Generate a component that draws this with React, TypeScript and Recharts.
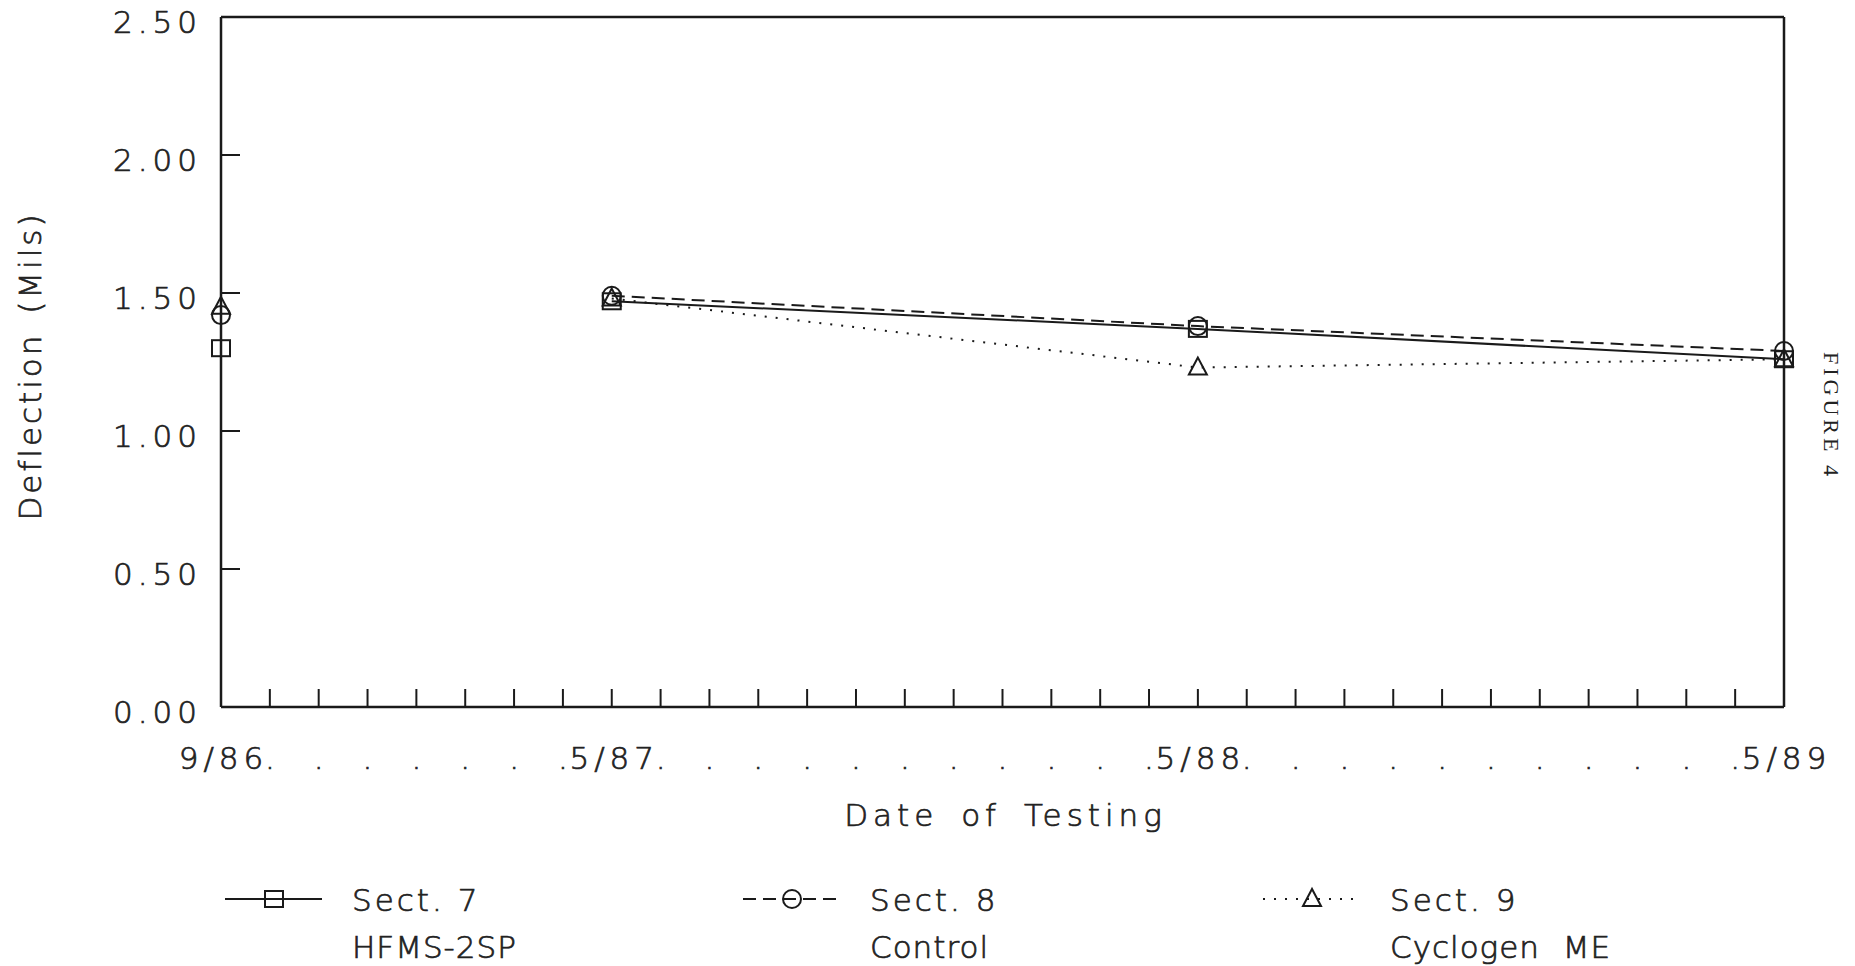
import React from 'react';
import { ComposedChart, Line, XAxis, YAxis, ReferenceLine, Legend } from 'recharts';

// months counted from 9/86, one tick per month
const monthTicks = Array.from({ length: 33 }, (_, i) => i);
const testMonths = [0, 8, 20, 32];
const testDates = ['9/86', '5/87', '5/88', '5/89'];
const yTicks = [0, 0.5, 1.0, 1.5, 2.0, 2.5];

const sect7 = [1.3, 1.47, 1.37, 1.26];
const sect8 = [1.42, 1.49, 1.38, 1.29];
const sect9 = [1.45, 1.48, 1.23, 1.26];

const series = [
  { key: 's7', name: 'Sect. 7', sub: 'HFMS-2SP', values: sect7, dash: undefined, marker: 'square' },
  { key: 's8', name: 'Sect. 8', sub: 'Control', values: sect8, dash: '13 7', marker: 'circle' },
  { key: 's9', name: 'Sect. 9', sub: 'Cyclogen ME', values: sect9, dash: '2 9', marker: 'triangle' },
];

const rows = testMonths.map((m, i) => {
  const row: any = { month: m };
  series.forEach((s) => (row[s.key] = s.values[i]));
  return row;
});
// first reading (9/86) is not joined to the later ones
const firstRows = rows.slice(0, 1);
const laterRows = rows.slice(1);

const INK = '#1a1a1a';
const TEXT = '#222';
// thin plotter-style lettering
const txt = {
  fontFamily: '"DejaVu Sans", sans-serif',
  fontSize: 31,
  fontWeight: 300,
  fill: TEXT,
  stroke: TEXT,
  strokeWidth: 0.7,
};

const Marker = ({ cx, cy, kind }: any) => {
  if (cx == null || cy == null) return null;
  if (kind === 'square')
    return <rect x={cx - 9} y={cy - 8} width={18} height={16} fill="none" stroke={INK} strokeWidth={2} />;
  if (kind === 'circle') return <circle cx={cx} cy={cy} r={9} fill="none" stroke={INK} strokeWidth={2} />;
  return (
    <polygon
      points={`${cx},${cy - 10} ${cx - 9},${cy + 7} ${cx + 9},${cy + 7}`}
      fill="none"
      stroke={INK}
      strokeWidth={2}
    />
  );
};

const XTick = ({ x, y, payload }: any) => {
  const v = payload.value;
  const idx = testMonths.indexOf(v);
  const label = idx >= 0 ? testDates[idx] : '.';
  return (
    <g>
      {v > 0 && v < 32 && <line x1={x} x2={x} y1={y} y2={y - 18} stroke={INK} strokeWidth={2} />}
      <text x={x + 2.5} y={y + 62} textAnchor="middle" letterSpacing={5} {...txt}>
        {label}
      </text>
    </g>
  );
};

const YTick = ({ x, y, payload }: any) => {
  const v = payload.value;
  return (
    <g>
      {v > 0 && v < 2.5 && <line x1={x} x2={x + 19} y1={y} y2={y} stroke={INK} strokeWidth={2} />}
      <text x={x - 19} y={y + 16} textAnchor="end" letterSpacing={5} {...txt}>
        {v.toFixed(2)}
      </text>
    </g>
  );
};

const LegendContent = () => {
  const starts = [225, 743, 1263];
  return (
    <svg width={1855} height={106}>
      {series.map((s, i) => {
        const x0 = starts[i];
        const cy = 39;
        return (
          <g key={s.key}>
            <line x1={x0} x2={x0 + 97} y1={cy} y2={cy} stroke={INK} strokeWidth={2} strokeDasharray={s.dash} />
            <Marker cx={x0 + 49} cy={cy} kind={s.marker} />
            <text x={x0 + 127} y={cy + 12} letterSpacing={3} {...txt}>
              {s.name}
            </text>
            <text x={x0 + 127} y={cy + 59} letterSpacing={1} wordSpacing={12} {...txt}>
              {s.sub}
            </text>
          </g>
        );
      })}
    </svg>
  );
};

export default function App() {
  return (
    <div style={{ position: 'relative', width: 1855, height: 966, background: '#fff' }}>
      <style>{'body{margin:0}'}</style>
      <ComposedChart width={1855} height={966} margin={{ top: 17, right: 71, bottom: 0, left: 0 }}>
        <XAxis
          dataKey="month"
          type="number"
          domain={[0, 32]}
          ticks={monthTicks}
          interval={0}
          tickLine={false}
          tickSize={0}
          tickMargin={0}
          height={259}
          axisLine={{ stroke: INK, strokeWidth: 2.5 }}
          tick={<XTick />}
          label={{
            content: ({ viewBox }: any) => (
              <text
                x={viewBox.x + viewBox.width / 2 + 3}
                y={826}
                textAnchor="middle"
                letterSpacing={5}
                wordSpacing={8}
                {...txt}
              >
                Date of Testing
              </text>
            ),
          }}
        />
        <YAxis
          type="number"
          domain={[0, 2.5]}
          ticks={yTicks}
          interval={0}
          width={221}
          tickLine={false}
          tickSize={0}
          tickMargin={0}
          axisLine={{ stroke: INK, strokeWidth: 2.5 }}
          tick={<YTick />}
          label={{
            content: () => (
              <text
                x={41}
                y={366}
                transform="rotate(-90 41 366)"
                textAnchor="middle"
                letterSpacing={3}
                wordSpacing={6}
                {...txt}
              >
                Deflection (Mils)
              </text>
            ),
          }}
        />
        <ReferenceLine y={2.5} stroke={INK} strokeWidth={2.5} />
        <ReferenceLine x={32} stroke={INK} strokeWidth={2.5} />
        {series.map((s) => (
          <Line
            key={s.key}
            data={laterRows}
            dataKey={s.key}
            name={s.name}
            stroke={INK}
            strokeWidth={2}
            strokeDasharray={s.dash}
            isAnimationActive={false}
            dot={(p: any) => <Marker key={`${s.key}-${p.index}`} cx={p.cx} cy={p.cy} kind={s.marker} />}
            activeDot={false}
          />
        ))}
        {series.map((s) => (
          <Line
            key={`${s.key}-first`}
            data={firstRows}
            dataKey={s.key}
            name={`${s.name} first`}
            stroke="none"
            isAnimationActive={false}
            dot={(p: any) => <Marker key={`${s.key}-f-${p.index}`} cx={p.cx} cy={p.cy} kind={s.marker} />}
            activeDot={false}
            legendType="none"
          />
        ))}
        <Legend
          layout="horizontal"
          verticalAlign="middle"
          align="center"
          content={<LegendContent />}
          wrapperStyle={{ position: 'absolute', left: 0, top: 860, width: 1855, height: 106 }}
        />
      </ComposedChart>
      <div
        style={{
          position: 'absolute',
          left: 1818,
          top: 352,
          writingMode: 'vertical-rl',
          fontFamily: '"Liberation Serif", serif',
          fontSize: 22,
          letterSpacing: 4,
          color: '#222',
        }}
      >
        FIGURE 4
      </div>
    </div>
  );
}
